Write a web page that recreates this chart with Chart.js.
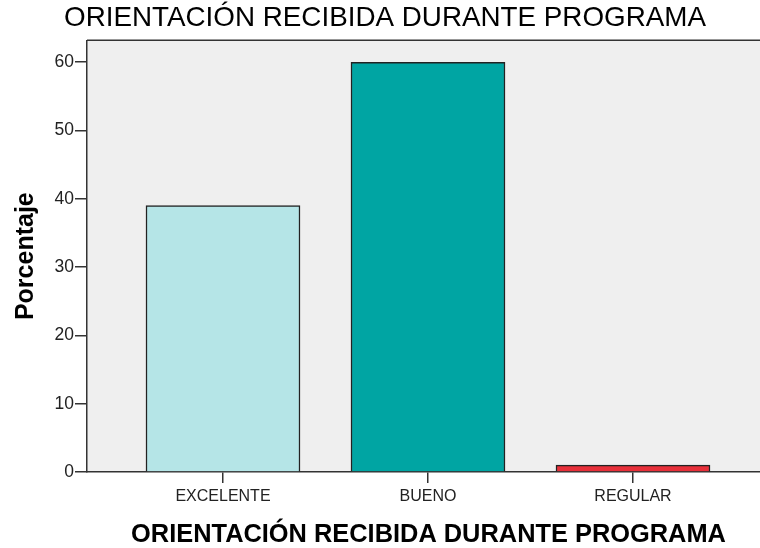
<!DOCTYPE html>
<html><head><meta charset="utf-8">
<script src="https://cdn.jsdelivr.net/npm/chart.js@4"></script>
<style>html,body{margin:0;padding:0;background:#fff;overflow:hidden}#wrap{width:760px;height:548px;overflow:hidden}</style>
</head><body><div id="wrap"><canvas id="c" width="770" height="548"></canvas></div>
<script>
const categories = ["EXCELENTE", "BUENO", "REGULAR"];
const percentages = [39, 60, 1];
const yTicks = [0, 10, 20, 30, 40, 50, 60];
const barColors = ["#b5e5e7", "#00a5a3", "#e8303a"];
const chartTitle = "ORIENTACIÓN RECIBIDA DURANTE PROGRAMA";
const xTitle = "ORIENTACIÓN RECIBIDA DURANTE PROGRAMA";
const yTitle = "Porcentaje";

const FONT = "'Liberation Sans', Arial, sans-serif";

const bgPlugin = {
  id: 'bg',
  beforeDraw(chart) {
    const {ctx, chartArea: a} = chart;
    ctx.save();
    ctx.fillStyle = '#efefef';
    ctx.fillRect(a.left, a.top, a.right - a.left, a.bottom - a.top);
    ctx.strokeStyle = '#333';
    ctx.lineWidth = 1.5;
    ctx.beginPath();
    ctx.moveTo(a.left, a.top);
    ctx.lineTo(a.right, a.top);
    ctx.stroke();
    ctx.restore();
  }
};

new Chart(document.getElementById('c'), {
  type: 'bar',
  data: {
    datasets: [{
      data: categories.map((c, i) => ({x: i, y: percentages[i]})),
      backgroundColor: barColors,
      borderColor: '#222',
      borderWidth: 1.5,
      barThickness: 154
    }]
  },
  options: {
    responsive: false,
    animation: false,
    events: [],
    layout: {padding: {left: 0, right: 0, top: 0, bottom: 0}},
    plugins: {
      legend: {display: false},
      tooltip: {enabled: false},
      title: {
        display: true,
        text: chartTitle,
        color: '#000',
        font: {family: FONT, size: 27.8, weight: 'normal', lineHeight: 1.2},
        padding: {top: 2, bottom: 5}
      }
    },
    scales: {
      x: {
        type: 'linear',
        min: -0.6634,
        max: 2.6683,
        offset: false,
        afterBuildTicks(s) { s.ticks = categories.map((c, i) => ({value: i})); },
        afterFit(s) { s.height = 76; },
        ticks: {
          color: '#222',
          font: {family: FONT, size: 16},
          padding: 4,
          maxRotation: 0,
          autoSkip: false,
          callback: (v) => categories[v]
        },
        grid: {display: true, offset: false, drawOnChartArea: false, drawTicks: true, tickLength: 11, color: '#333', lineWidth: 1.5},
        border: {display: true, color: '#333', width: 1.5},
        title: {
          display: true,
          text: xTitle,
          color: '#000',
          font: {family: FONT, size: 25.4, weight: 'bold', lineHeight: 1.0},
          padding: {top: 6, bottom: 0}
        }
      },
      y: {
        min: 0,
        max: 63.2,
        afterBuildTicks(s) { s.ticks = yTicks.map(v => ({value: v})); },
        afterFit(s) { s.width = 87; },
        ticks: {
          color: '#222',
          font: {family: FONT, size: 17.5},
          padding: 1
        },
        grid: {display: true, drawOnChartArea: false, drawTicks: true, tickLength: 12, color: '#333', lineWidth: 1.5},
        border: {display: true, color: '#333', width: 1.5},
        title: {
          display: true,
          text: yTitle,
          color: '#000',
          font: {family: FONT, size: 25, weight: 'bold', lineHeight: 1.2},
          padding: {top: 11, bottom: 2}
        }
      }
    }
  },
  plugins: [bgPlugin]
});
</script></body></html>
